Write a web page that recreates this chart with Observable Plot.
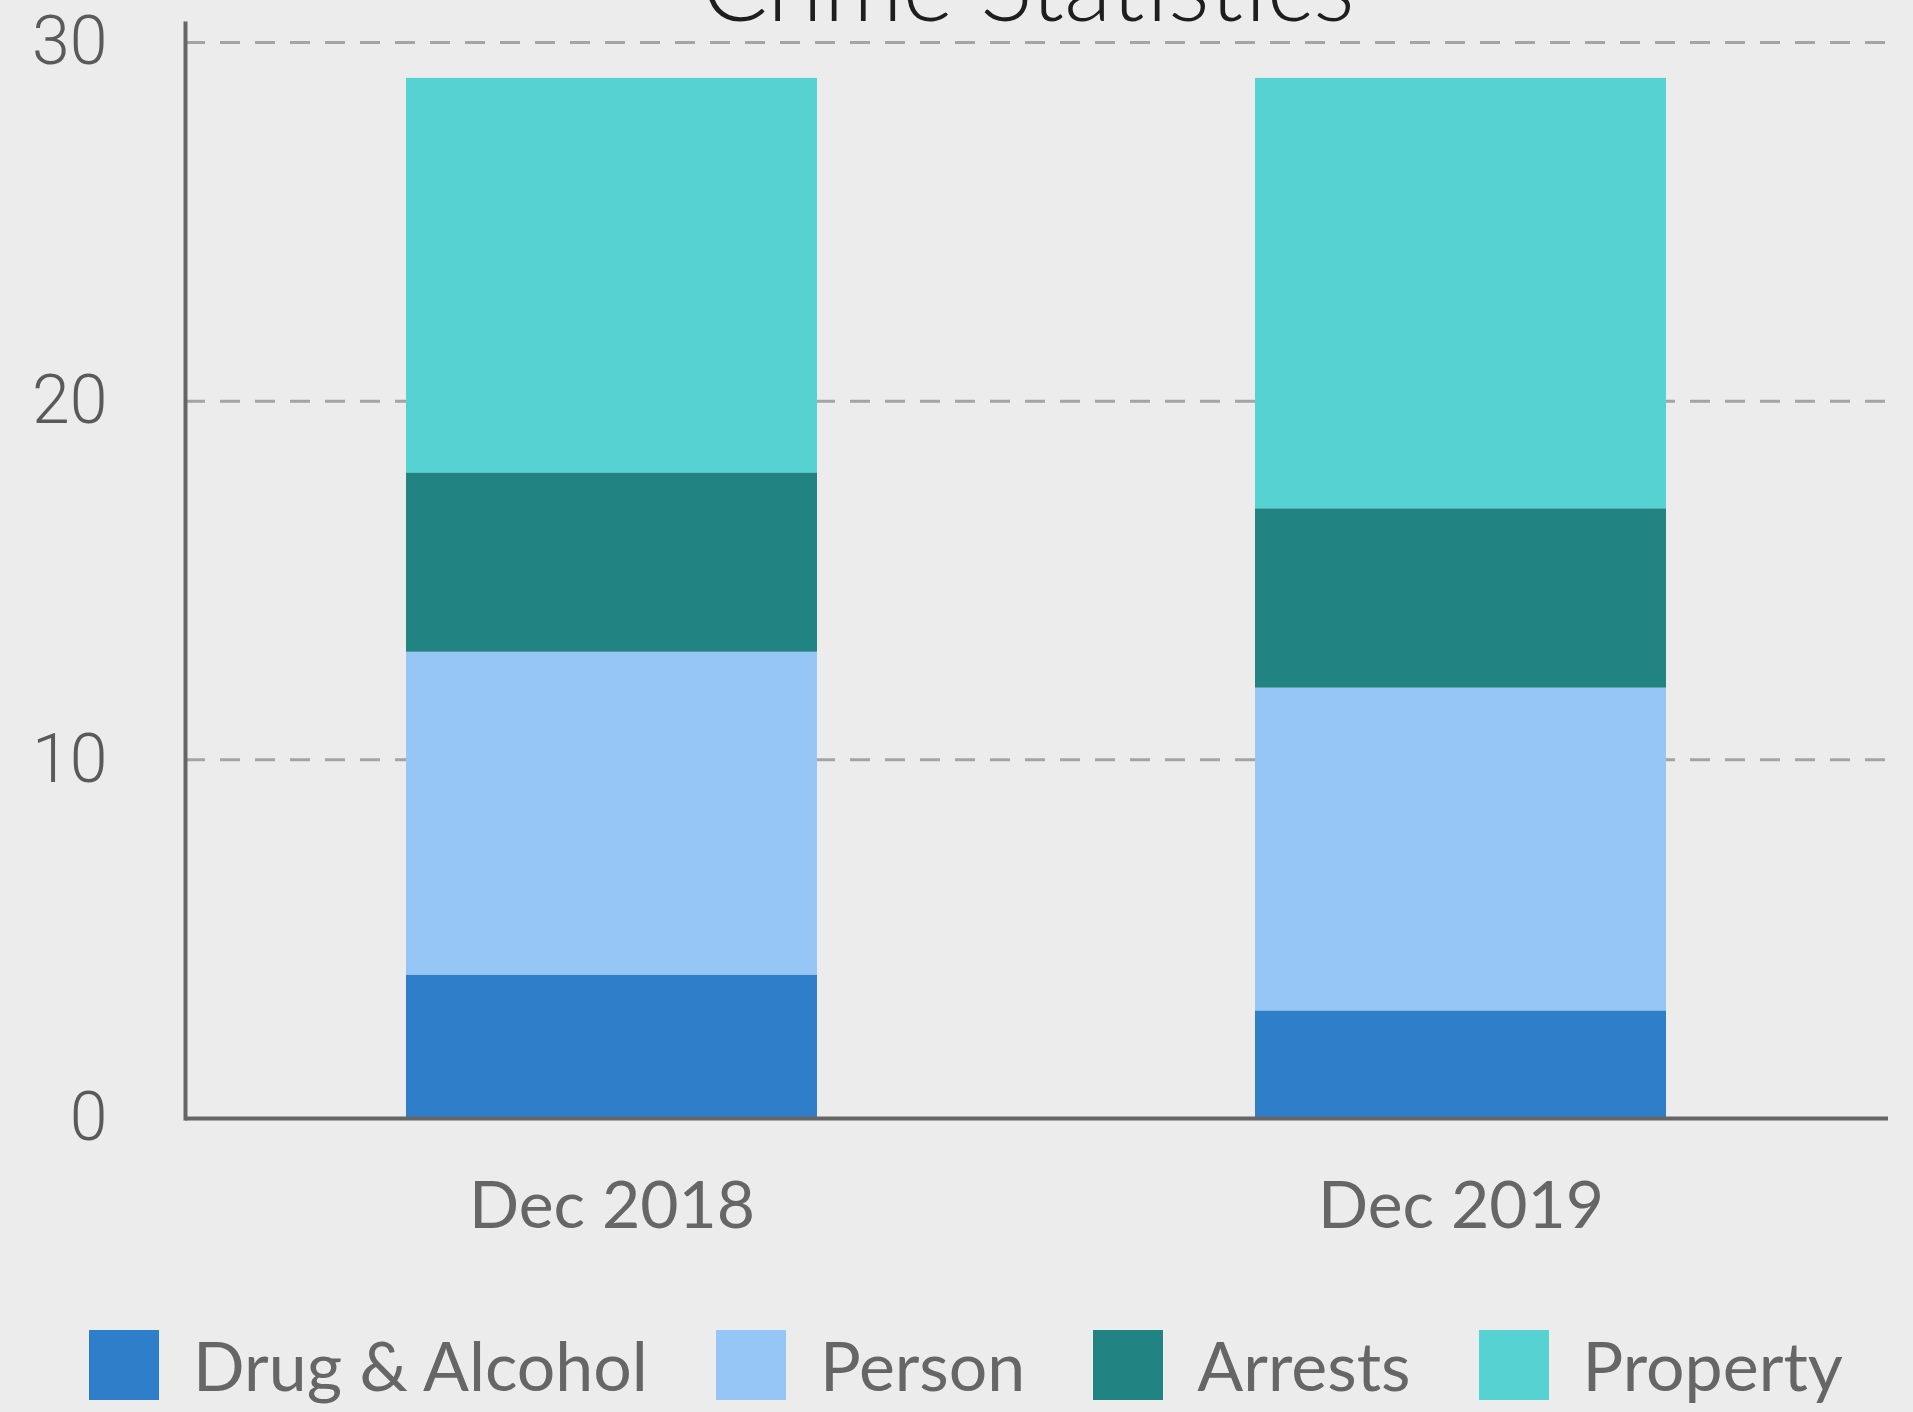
<!DOCTYPE html>
<html>
<head>
<meta charset="utf-8">
<script src="https://cdn.jsdelivr.net/npm/d3@7"></script>
<script src="https://cdn.jsdelivr.net/npm/@observablehq/plot@0.6"></script>
<style>
html, body { margin: 0; padding: 0; background: #ececec; width: 1913px; height: 1412px; overflow: hidden; }
#wrap { position: relative; width: 1913px; height: 1412px; }
#chart { position: absolute; left: 0; top: 0; }
#title { position: absolute; left: 0; top: 0; }
#legend { position: absolute; left: 89px; top: 1324px; width: 1900px; }
#chart [aria-label="x-axis tick label"] text { font-family: Lato, sans-serif; font-size: 66px; fill: #666; }
#chart [aria-label="y-axis tick label"] text { font-family: Roboto, sans-serif; font-weight: 300; font-size: 68px; fill: #5a5a5a; }
</style>
</head>
<body>
<div id="wrap">
  <div id="chart"></div>
  <svg id="title" width="1913" height="60"><text x="1028" y="21" text-anchor="middle" font-family="Lato" font-weight="300" font-size="98" fill="#1e1e1e">Crime Statistics</text></svg>
  <div id="legend"></div>
</div>
<script>
const periods = ["Dec 2018", "Dec 2019"];
const categories = ["Drug & Alcohol", "Person", "Arrests", "Property"];
const drugAlcohol = [4, 3];
const person = [9, 9];
const arrests = [5, 5];
const property = [11, 12];
const yTicks = [0, 10, 20, 30];
const palette = ["#2e7ec9", "#95c6f5", "#228482", "#57d2d2"];

const seriesValues = [drugAlcohol, person, arrests, property];
const rows = categories.flatMap((c, i) =>
  periods.map((p, j) => ({period: p, category: c, value: seriesValues[i][j]}))
);

const chart = Plot.plot({
  width: 1913,
  height: 1290,
  marginTop: 23,
  marginBottom: 172,
  marginLeft: 185,
  marginRight: 25,
  style: {background: "transparent", fontFamily: "Lato, sans-serif", overflow: "visible"},
  x: {domain: periods, paddingInner: 0.5156, paddingOuter: 0.2605, align: 0.5, label: null},
  y: {domain: [0, 30.53], ticks: yTicks, label: null},
  color: {domain: categories, range: palette},
  marks: [
    Plot.gridY(yTicks.filter(d => d > 0), {stroke: "#a4a4a4", strokeOpacity: 1, strokeWidth: 3, strokeDasharray: "20 15"}),
    Plot.barY(rows, {x: "period", y: "value", fill: "category", order: categories}),
    Plot.axisX({tickSize: 0, tickPadding: 63, label: null, fontSize: 66, fill: "#666"}),
    Plot.axisY(yTicks, {tickSize: 0, tickPadding: 78, label: null, fontSize: 68, fill: "#5a5a5a"}),
    Plot.ruleY([0], {stroke: "#666", strokeWidth: 4}),
    Plot.frame({anchor: "left", stroke: "#666", strokeWidth: 4})
  ]
});
document.getElementById("chart").appendChild(chart);

const legend = Plot.legend({
  color: {domain: categories, range: palette},
  legend: "swatches",
  swatchSize: 70,
  style: {fontFamily: "Lato, sans-serif", fontSize: "68px", color: "#666", background: "transparent"}
});
document.getElementById("legend").appendChild(legend);
</script>
</body>
</html>
